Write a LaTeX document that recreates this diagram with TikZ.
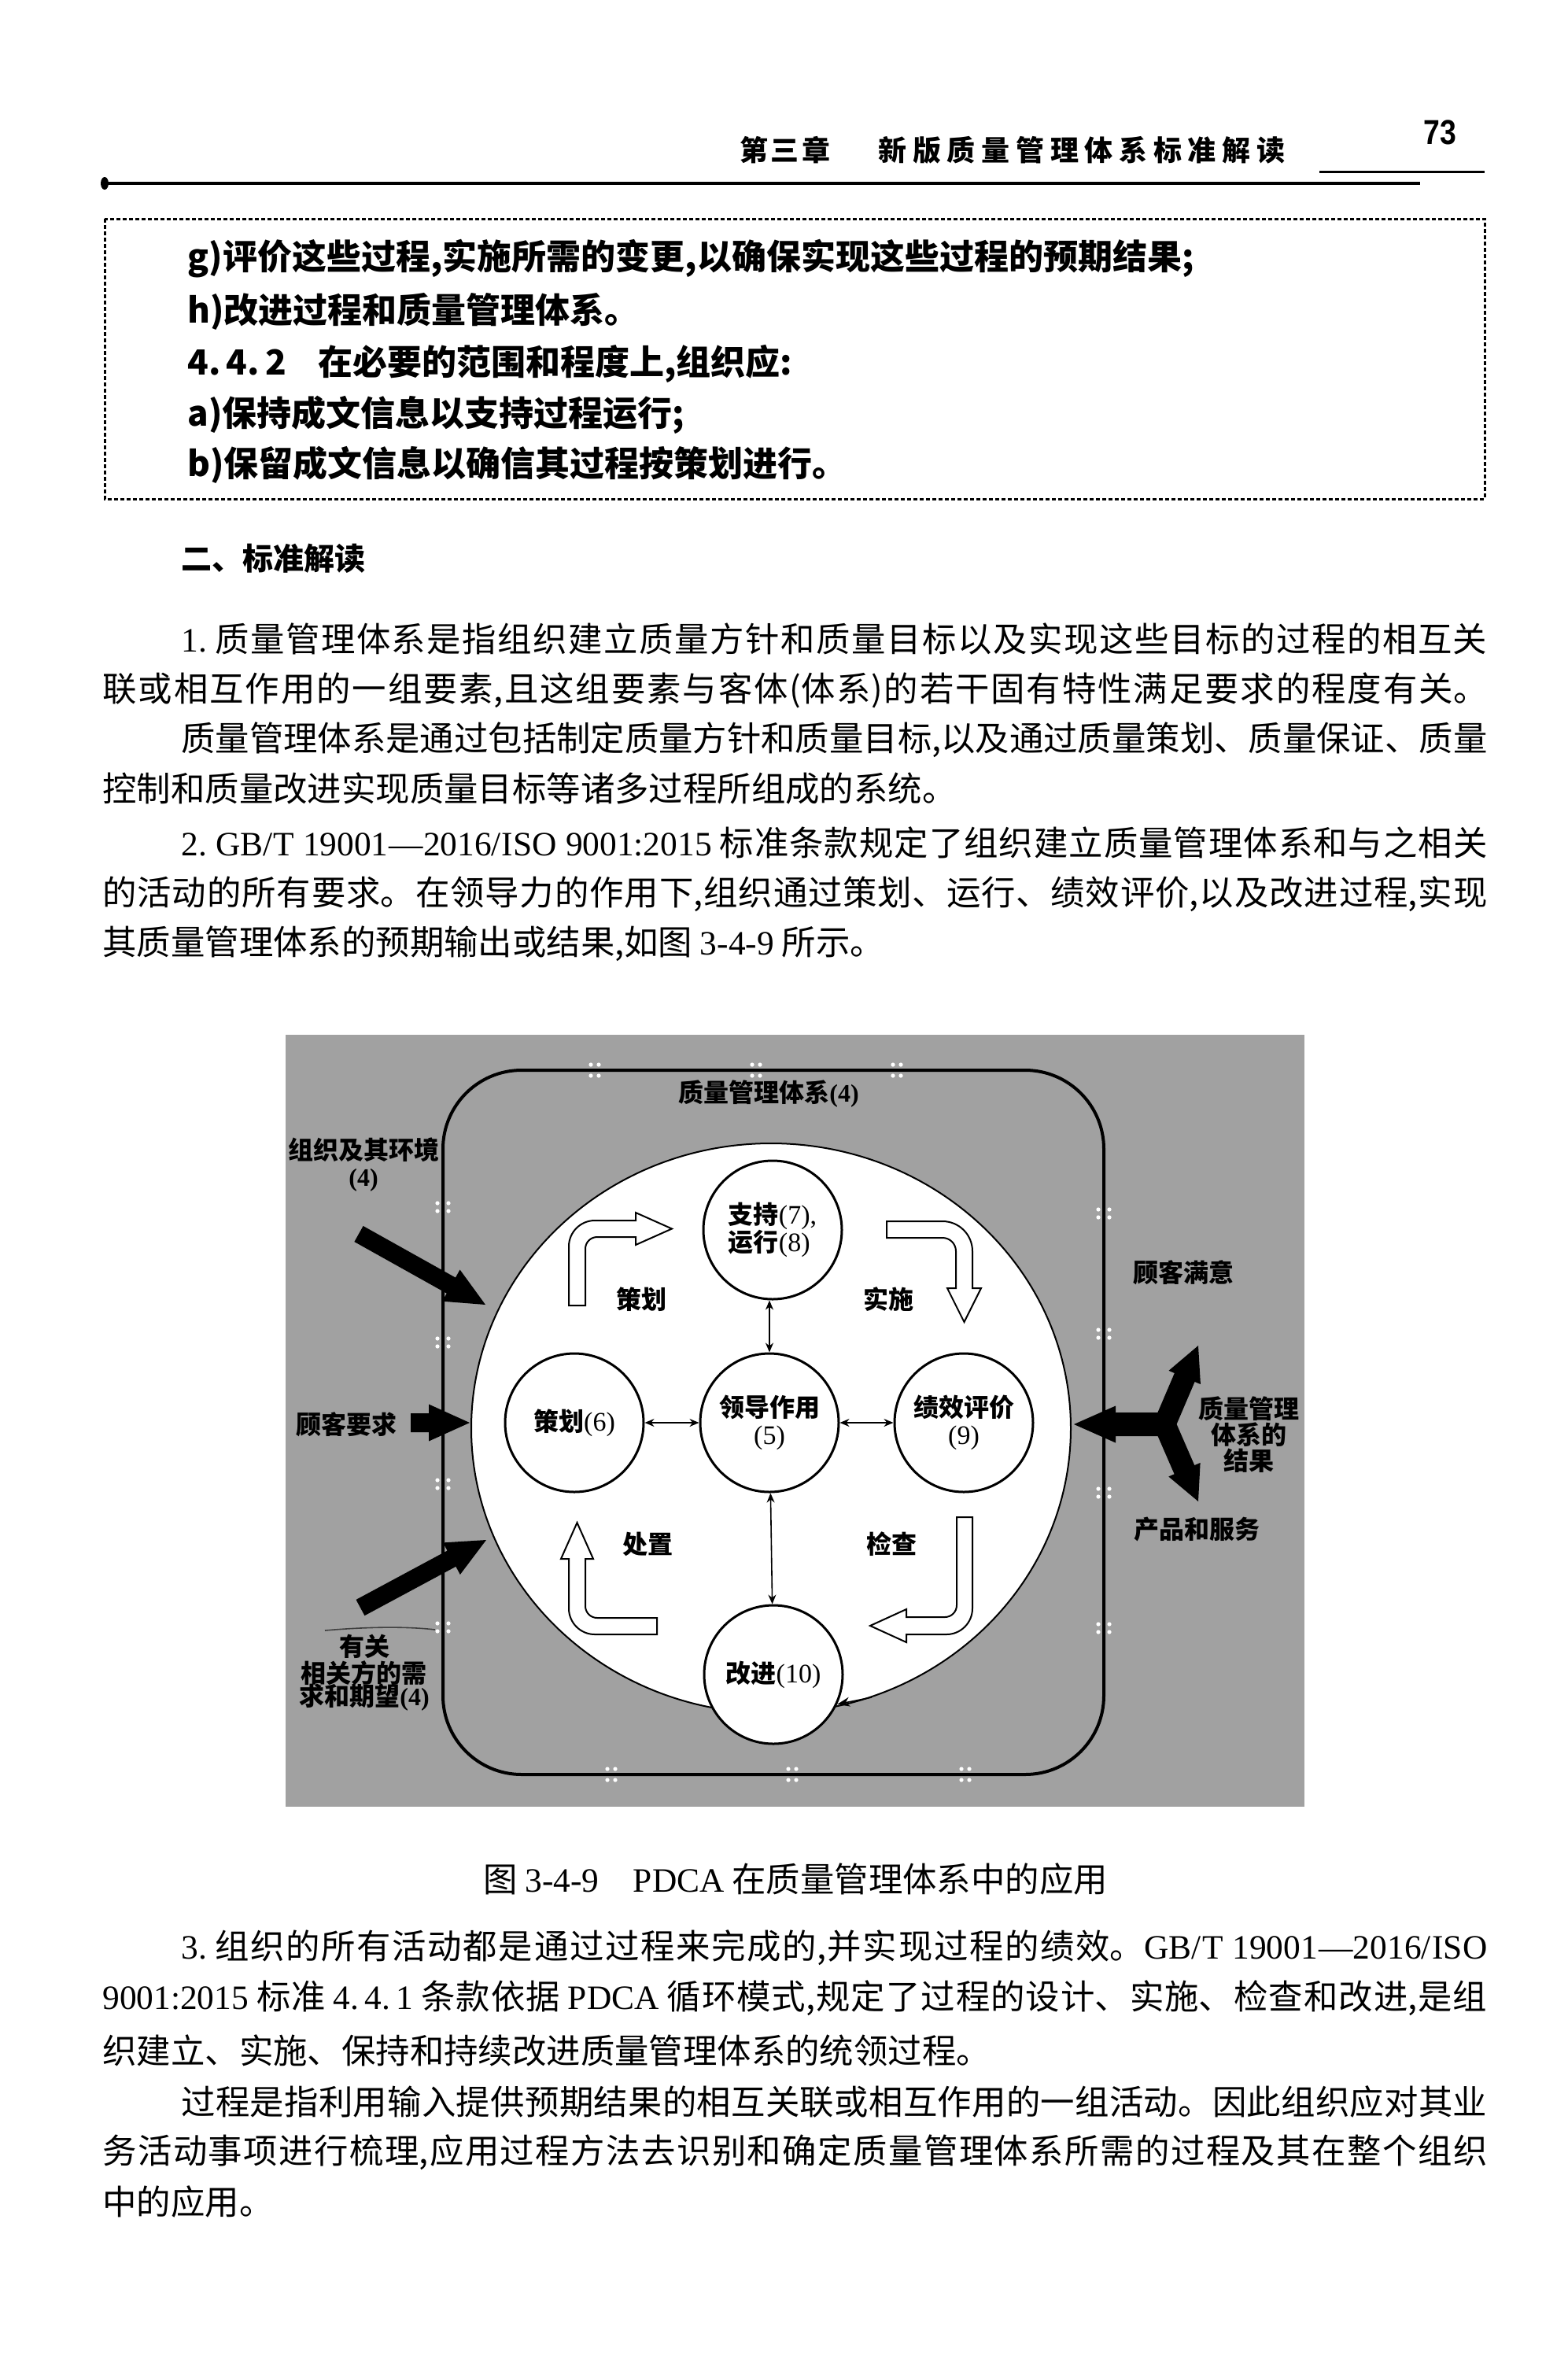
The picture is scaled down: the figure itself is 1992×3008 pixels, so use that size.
\documentclass[tikz,border=0pt]{standalone}
\usepackage{fontspec}
\usepackage{graphicx}
\setmainfont{Liberation Serif}
\setsansfont{Liberation Sans}
\newfontfamily\cjk{Noto Sans CJK SC}
\usetikzlibrary{calc,arrows.meta}
\XeTeXlinebreaklocale "zh"
\XeTeXlinebreakskip=0pt plus 8pt minus 0.4pt
\XeTeXlinebreakpenalty=10000
\tolerance=10000
\hbadness=10000
\hfuzz=40pt
\newcommand\fsz[2]{\fontsize{#1}{#2}\selectfont}
\newcommand\lt[1]{{\rmfamily #1}}
\newcommand\ltn[1]{{\rmfamily\mdseries\fontsize{17pt}{17.5pt}\selectfont #1}}
\newcommand\jl[1]{\parfillskip=0pt\relax\noindent#1\par}
\definecolor{bggray}{gray}{0.63}
\newcommand\fatarrow[5]{%
 \coordinate (fa-b) at ($(#2)!#5!(#1)$);
 \fill ($(#1)!#3!90:(#2)$) -- ($(fa-b)!#3!90:(#2)$) -- ($(fa-b)!#4!90:(#2)$) -- (#2) -- ($(fa-b)!#4!-90:(#2)$) -- ($(fa-b)!#3!-90:(#2)$) -- ($(#1)!#3!-90:(#2)$) -- cycle;}
\tikzset{
 hdr/.style={anchor=west, inner sep=0pt, align=justify, font=\cjk\bfseries\fsz{18pt}{20pt}},
 body/.style={anchor=west, inner sep=0pt, font=\cjk\fsz{21.7pt}{26pt}},
 jline/.style={body, text width=#1, align=justify},
 boxline/.style={anchor=west, inner sep=0pt, font=\cjk\bfseries\fsz{22pt}{26pt}},
 lab/.style={inner sep=0pt, align=center, font=\cjk\bfseries\fsz{16pt}{17pt}},
 proc/.style={circle, draw, line width=1.5pt, fill=white, minimum size=88pt, inner sep=0pt, align=center, font=\cjk\bfseries\fsz{16pt}{17.5pt}},
 hollow/.style={draw, fill=white, line width=1pt},
 link/.style={{Stealth[length=6pt,width=5pt]}-{Stealth[length=6pt,width=5pt]}, line width=0.8pt},
}
\begin{document}
\begin{tikzpicture}[x=0.5pt, y=-0.5pt]
\useasboundingbox (0,0) rectangle (1992,3008);
\fill[white] (0,0) rectangle (1992,3008);

% ---------- page header ----------
\node[hdr, text width=57.5pt] (chap) at (940,191) {\jl{第三章}};
\node[hdr, text width=258.5pt] (ttl) at (1116,191) {\jl{新版质量管理体系标准解读}};
\node[inner sep=0pt, font=\sffamily\bfseries\fsz{22pt}{24pt}] (pg) at (1830,168) {\scalebox{0.85}[1]{73}};
\draw[line width=1.5pt] (1677,218) -- (1887,218);
\draw[line width=2pt] (133,233) -- (1805,233);
\fill (133,233) ellipse [x radius=2.5pt, y radius=4pt];

% ---------- dashed box ----------
\draw[line width=1.5pt, dash pattern=on 2.5pt off 1.5pt] (133,278) rectangle (1887,634);
\node[boxline] (bg) at (238,329) {g)评价这些过程,实施所需的变更,以确保实现这些过程的预期结果;};
\node[boxline] (bh) at (238,396) {h)改进过程和质量管理体系。};
\node[boxline] (b442) at (238,462) {4.\,4.\,2\hspace{20pt}在必要的范围和程度上,组织应:};
\node[boxline] (ba) at (238,527) {a)保持成文信息以支持过程运行;};
\node[boxline] (bb) at (238,591) {b)保留成文信息以确信其过程按策划进行。};

% ---------- section title ----------
\node[anchor=west, inner sep=0pt, font=\cjk\bfseries\fsz{19.5pt}{22pt}] (sec) at (230,710) {二、标准解读};

% ---------- body text above figure ----------
\node[jline=830pt] (p1) at (230,812) {\jl{\lt{1.}~质量管理体系是指组织建立质量方针和质量目标以及实现这些目标的过程的相互关}};
\node[jline=880pt] (p2) at (130,877) {\jl{联或相互作用的一组要素,且这组要素与客体(体系)的若干固有特性满足要求的程度有关。}};
\node[jline=830pt] (p3) at (230,940) {\jl{质量管理体系是通过包括制定质量方针和质量目标,以及通过质量策划、质量保证、质量}};
\node[body] (p4) at (130,1002) {控制和质量改进实现质量目标等诸多过程所组成的系统。};
\node[jline=830pt] (p5) at (230,1071) {\jl{\lt{2.~GB/T~19001—2016/ISO~9001:2015}~标准条款规定了组织建立质量管理体系和与之相关}};
\node[jline=880pt] (p6) at (130,1136) {\jl{的活动的所有要求。在领导力的作用下,组织通过策划、运行、绩效评价,以及改进过程,实现}};
\node[body] (p7) at (130,1199) {其质量管理体系的预期输出或结果,如图~\lt{3-4-9}~所示。};

% ---------- figure ----------
\fill[bggray] (363,1315) rectangle (1658,2296);
\draw[line width=2pt, rounded corners=50pt] (563,1360) rectangle (1403,2255);
% small white marks on the frame line
\foreach \mx in {756,961,1140} {
  \fill[white] (\mx-5,1353) circle (1.3pt) (\mx+5,1353) circle (1.3pt) (\mx-5,1367) circle (1.3pt) (\mx+5,1367) circle (1.3pt);}
\foreach \mx in {777,1007,1227} {
  \fill[white] (\mx-5,2248) circle (1.3pt) (\mx+5,2248) circle (1.3pt) (\mx-5,2262) circle (1.3pt) (\mx+5,2262) circle (1.3pt);}
\foreach \my in {1534,1706,1886,2068} {
  \fill[white] (556,\my-5) circle (1.3pt) (556,\my+5) circle (1.3pt) (570,\my-5) circle (1.3pt) (570,\my+5) circle (1.3pt);}
\foreach \my in {1542,1695,1897,2069} {
  \fill[white] (1396,\my-5) circle (1.3pt) (1396,\my+5) circle (1.3pt) (1410,\my-5) circle (1.3pt) (1410,\my+5) circle (1.3pt);}

% labels in the grey field
\node[lab] (qms) at (977,1390) {质量管理体系\lt{(4)}};
\node[lab] (org) at (462,1480) {组织及其环境\\\lt{(4)}};
\node[lab] (cr) at (440,1810) {顾客要求};
\draw[line width=0.8pt, black!75] (413,2072) .. controls (470,2067) and (520,2067) .. (553,2071);
\node[lab] (ip1) at (463,2092) {有关};
\node[lab] (ip2) at (462,2126) {相关方的需};
\node[lab] (ip3) at (463,2157) {求和期望\lt{(4)}};
\node[lab] (cs) at (1504,1617) {顾客满意};
\node[lab, font=\cjk\bfseries\fsz{16pt}{16.5pt}] (res) at (1587,1823) {质量管理\\体系的\\结果};
\node[lab] (ps) at (1521,1943) {产品和服务};

% white ellipse
\draw[fill=white, line width=1pt] (980,1815) ellipse [x radius=190.5pt, y radius=181pt];

% fat black arrows
\coordinate (a1t) at (456,1568); \coordinate (a1h) at (617,1658);
\fatarrow{a1t}{a1h}{5.75pt}{11.5pt}{25pt}
\coordinate (a2t) at (522,1808); \coordinate (a2h) at (597,1808);
\fatarrow{a2t}{a2h}{6pt}{11.75pt}{26pt}
\coordinate (a3t) at (458,2043); \coordinate (a3h) at (618,1957);
\fatarrow{a3t}{a3h}{5.75pt}{11.5pt}{25pt}
\coordinate (yj) at (1490,1810); \coordinate (yl) at (1365,1810);
\fatarrow{yj}{yl}{7.5pt}{11.75pt}{26.5pt}
\coordinate (yju) at (1476,1820); \coordinate (yu) at (1523,1710);
\fatarrow{yju}{yu}{7pt}{11pt}{22pt}
\coordinate (yjd) at (1476,1800); \coordinate (yd) at (1523,1908);
\fatarrow{yjd}{yd}{7pt}{11pt}{22pt}

% hollow bent arrows
\draw[hollow] (723,1659) -- (723,1584) .. controls (723,1565.8) and (737.8,1551) .. (756,1551) -- (808,1551) -- (808,1541) -- (854,1561.5) -- (808,1582) -- (808,1572) -- (759,1572) .. controls (750.7,1572) and (744,1578.7) .. (744,1587) -- (744,1659) -- cycle;
\draw[hollow] (1127,1552) -- (1198,1552) .. controls (1219,1552) and (1236,1569) .. (1236,1590) -- (1236,1637) -- (1247,1637) -- (1225.5,1680) -- (1204,1637) -- (1215,1637) -- (1215,1590) .. controls (1215,1580.6) and (1207.4,1573) .. (1198,1573) -- (1127,1573) -- cycle;
\draw[hollow] (1216,1928) -- (1236,1928) -- (1236,2044) .. controls (1236,2062.2) and (1221.2,2077) .. (1203,2077) -- (1152,2077) -- (1152,2087) -- (1106,2066) -- (1152,2045) -- (1152,2055) -- (1201,2055) .. controls (1209.3,2055) and (1216,2048.3) .. (1216,2040) -- cycle;
\draw[hollow] (835,2056) -- (759,2056) .. controls (750.7,2056) and (744,2049.3) .. (744,2041) -- (744,1981) -- (754,1981) -- (733.5,1935) -- (713,1981) -- (723,1981) -- (723,2044) .. controls (723,2062.2) and (737.8,2077) .. (756,2077) -- (835,2077) -- cycle;

% PDCA labels
\node[lab] (lp) at (815,1651) {策划};
\node[lab] (ld) at (1129,1651) {实施};
\node[lab] (lc) at (823,1962) {处置};
\node[lab] (la) at (1133,1962) {检查};

% process circles
\node[proc, align=left] (sup) at (982,1563) {支持\ltn{(7),}\\运行\ltn{(8)}};
\node[proc] (lead) at (978,1808) {领导作用\\\ltn{(5)}};
\node[proc] (plan) at (730,1808) {策划\ltn{(6)}};
\node[proc] (perf) at (1225,1808) {绩效评价\\\ltn{(9)}};
\node[proc] (imp) at (983,2128) {改进\ltn{(10)}};
\draw[link] (sup.south -| lead) -- (lead);
\draw[link] (plan) -- (lead);
\draw[link] (lead) -- (perf);
\draw[link] (lead) -- (imp);
\coordinate (ee) at (1108,2157);
\draw[-{Stealth[length=8pt,width=6pt]}, line width=0.8pt] (ee) -- (imp.-25);

% ---------- caption ----------
\node[body] (cap) at (614,2388) {图~\lt{3-4-9}\quad\lt{PDCA}~在质量管理体系中的应用};

% ---------- body text below figure ----------
\node[jline=830pt] (q1) at (230,2475) {\jl{\lt{3.}~组织的所有活动都是通过过程来完成的,并实现过程的绩效。\lt{GB/T~19001—2016/ISO}}};
\node[jline=880pt] (q2) at (130,2539) {\jl{\lt{9001:2015}~标准~\lt{4.\,4.\,1}~条款依据~\lt{PDCA}~循环模式,规定了过程的设计、实施、检查和改进,是组}};
\node[body] (q3) at (130,2606) {织建立、实施、保持和持续改进质量管理体系的统领过程。};
\node[jline=830pt] (q4) at (230,2671) {\jl{过程是指利用输入提供预期结果的相互关联或相互作用的一组活动。因此组织应对其业}};
\node[jline=880pt] (q5) at (130,2735) {\jl{务活动事项进行梳理,应用过程方法去识别和确定质量管理体系所需的过程及其在整个组织}};
\node[body] (q6) at (130,2798) {中的应用。};
\end{tikzpicture}
\end{document}
